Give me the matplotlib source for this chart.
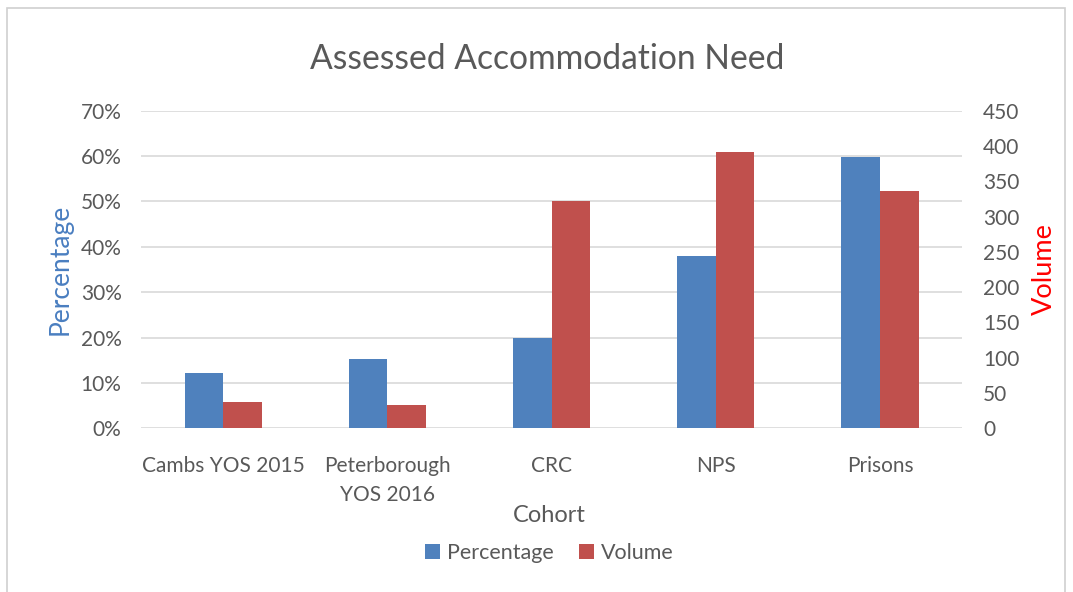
from matplotlib import pyplot as plt
from matplotlib.patches import Rectangle
from matplotlib.ticker import FuncFormatter, MultipleLocator
import numpy as np

# chart data
cohorts = ["Cambs YOS 2015", "Peterborough\nYOS 2016", "CRC", "NPS", "Prisons"]
percentage = [12.2, 15.3, 19.8, 38.0, 59.8]
volume = [37, 33, 322, 392, 336]

BLUE = "#4F81BD"
RED = "#C0504D"
GREY = "#595959"

plt.rcParams["font.family"] = ["Lato", "DejaVu Sans"]

fig = plt.figure(figsize=(10.73, 5.92), dpi=100)
ax = fig.add_axes([0.1314, 0.2765, 0.7652, 0.5365])
ax2 = ax.twinx()

x = np.arange(len(cohorts))
w = 0.235
ax.bar(x - w / 2, percentage, w, color=BLUE, label="Percentage", zorder=3)
ax2.bar(x + w / 2, volume, w, color=RED, label="Volume", zorder=3)

ax.set_xlim(-0.5, len(cohorts) - 0.5)
ax.set_ylim(0, 70)
ax2.set_ylim(0, 450)
ax.yaxis.set_major_locator(MultipleLocator(10))
ax2.yaxis.set_major_locator(MultipleLocator(50))
ax.yaxis.set_major_formatter(FuncFormatter(lambda v, p: f"{v:.0f}%"))
ax.grid(axis="y", color="#D9D9D9", linewidth=1.2, zorder=0)
ax.set_axisbelow(True)

for a in (ax, ax2):
    for s in a.spines.values():
        s.set_visible(False)
    a.tick_params(length=0, labelsize=15, labelcolor=GREY)
ax.tick_params(axis="y", pad=14)
ax2.tick_params(axis="y", pad=15)
ax.tick_params(axis="x", pad=20)
ax.set_xticks(x)
ax.set_xticklabels(cohorts, linespacing=1.55)

fig.text(0.51, 0.9, "Assessed Accommodation Need", ha="center", va="center",
         fontsize=24.2, color=GREY)
fig.text(0.056, 0.545, "Percentage", rotation=90, ha="center", va="center",
         fontsize=19, color="#4A7EC0")
fig.text(0.973, 0.545, "Volume", rotation=90, ha="center", va="center",
         fontsize=19.5, color="#FF0000")
fig.text(0.512, 0.13, "Cohort", ha="center", va="center", fontsize=17, color=GREY)

h1, l1 = ax.get_legend_handles_labels()
h2, l2 = ax2.get_legend_handles_labels()
fig.legend(h1 + h2, l1 + l2, loc="center", bbox_to_anchor=(0.512, 0.066), ncol=2,
           frameon=False, fontsize=15.5, labelcolor=GREY, handlelength=0.7,
           handleheight=0.7, handletextpad=0.3, columnspacing=1.2)

fig.patches.append(Rectangle((0.0065, -0.01), 0.986, 0.997, transform=fig.transFigure,
                             fill=False, edgecolor="#D0D0D0", linewidth=1.2))

fig.savefig("out.png", dpi=100)
